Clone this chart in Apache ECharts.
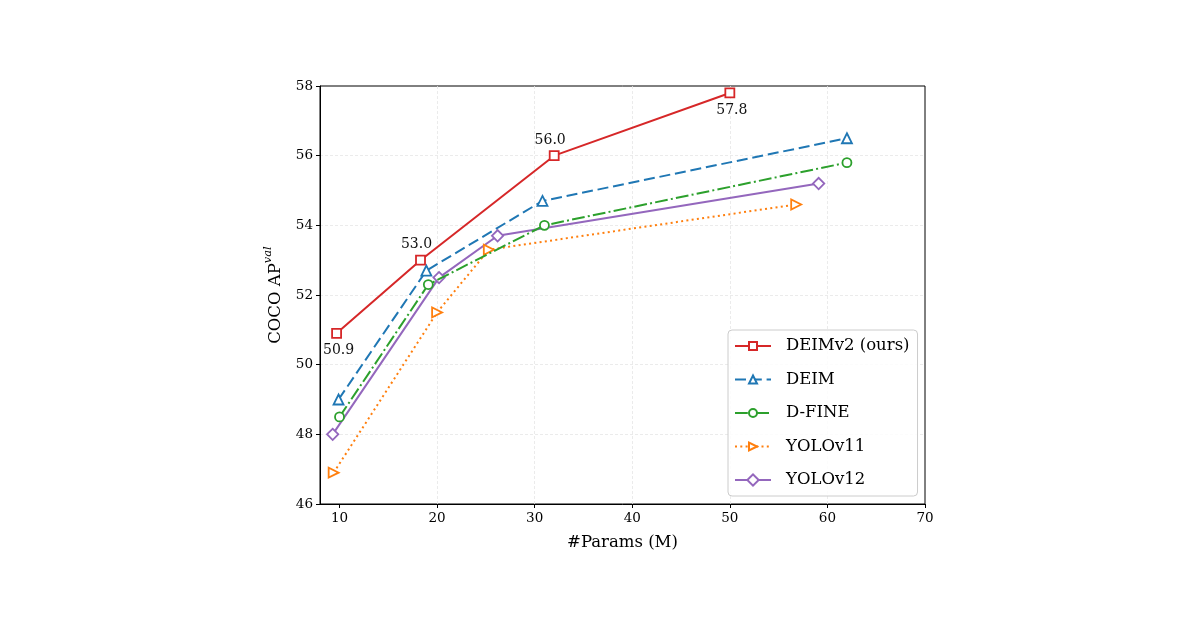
<!DOCTYPE html>
<html><head><meta charset="utf-8">
<script src="https://cdn.jsdelivr.net/npm/echarts@6/dist/echarts.min.js"></script>
<style>html,body{margin:0;padding:0;background:#fff}#c{width:1200px;height:630px}</style>
</head><body><div id="c"></div>
<script>
// ---- data ----
const seriesNames = ['DEIMv2 (ours)', 'DEIM', 'D-FINE', 'YOLOv11', 'YOLOv12'];
const deimv2Params = [9.7, 18.3, 32.0, 50.0];
const deimv2AP = [50.9, 53.0, 56.0, 57.8];
const deimParams = [9.9, 18.9, 30.8, 62.0];
const deimAP = [49.0, 52.7, 54.7, 56.5];
const dfineParams = [10.0, 19.1, 31.0, 62.0];
const dfineAP = [48.5, 52.3, 54.0, 55.8];
const yolo11Params = [9.4, 20.0, 25.3, 56.8];
const yolo11AP = [46.9, 51.5, 53.3, 54.6];
const yolo12Params = [9.3, 20.2, 26.2, 59.1];
const yolo12AP = [48.0, 52.5, 53.7, 55.2];
const annotationPlacement = ['bottom', 'top', 'top', 'bottom'];
const xTicks = [10, 20, 30, 40, 50, 60, 70];
const yTicks = [46, 48, 50, 52, 54, 56, 58];

const FONT = '"DejaVu Serif", serif';
const colors = ['#d62728', '#1f77b4', '#2ca02c', '#ff7f0e', '#9467bd'];
const pair = (xs, ys) => xs.map((x, i) => [x, ys[i]]);

const chart = echarts.init(document.getElementById('c'), null, {renderer: 'canvas'});

function mkSeries(idx, xs, ys, symbol, size, dash, rotate, extra) {
  return Object.assign({
    name: seriesNames[idx],
    type: 'line',
    data: pair(xs, ys),
    symbol: symbol,
    symbolSize: size,
    symbolRotate: rotate || 0,
    showAllSymbol: true,
    color: colors[idx],
    lineStyle: {color: colors[idx], width: 2, type: dash},
    itemStyle: {color: '#fff', borderColor: colors[idx], borderWidth: 1.8},
    emphasis: {disabled: true},
    z: 10 - idx
  }, extra || {});
}

const deimv2Data = pair(deimv2Params, deimv2AP).map((p, i) => ({
  value: p,
  label: {
    show: true,
    position: annotationPlacement[i],
    distance: annotationPlacement[i] === 'top' ? 3 : 5,
    formatter: deimv2AP[i].toFixed(1),
    fontFamily: FONT, fontSize: 14, color: '#111',
    offset: [i === 1 || i === 2 ? -4 : 2, 0]
  }
}));

const gridSplit = {show: true, showMinLine: false, showMaxLine: false, lineStyle: {color: '#e6e6e6', type: [3, 2], width: 0.8}};

const option = {
  animation: false,
  backgroundColor: '#fff',
  textStyle: {fontFamily: FONT},
  grid: {left: 320, right: 275, top: 86, bottom: 126, show: true, borderColor: '#000', borderWidth: 1, backgroundColor: 'transparent'},
  xAxis: {
    type: 'value', min: 8, max: 70,
    name: '#Params (M)', nameLocation: 'middle', nameGap: 30,
    nameTextStyle: {fontFamily: FONT, fontSize: 16.5, color: '#000'},
    axisLine: {show: true, lineStyle: {color: '#000', width: 1}},
    axisTick: {show: true, length: 4, lineStyle: {color: '#000'}, customValues: xTicks},
    axisLabel: {fontFamily: FONT, fontSize: 13.5, color: '#000', margin: 7, customValues: xTicks},
    splitLine: gridSplit
  },
  yAxis: {
    type: 'value', min: 46, max: 58, interval: 2,
    name: '{a|COCO AP}{s|val}', nameLocation: 'middle', nameGap: 36, nameRotate: 90,
    nameTextStyle: {
      fontFamily: FONT, fontSize: 16.5, color: '#000',
      rich: {
        a: {fontFamily: FONT, fontSize: 16.5, color: '#000', verticalAlign: 'bottom', lineHeight: 22},
        s: {fontFamily: FONT, fontSize: 11.5, fontStyle: 'italic', color: '#000', verticalAlign: 'top', lineHeight: 22, padding: [0, 0, 6, 0]}
      }
    },
    axisLine: {show: true, lineStyle: {color: '#000', width: 1}},
    axisTick: {show: true, length: 4, lineStyle: {color: '#000'}},
    axisLabel: {fontFamily: FONT, fontSize: 13.5, color: '#000', margin: 7},
    splitLine: gridSplit
  },
  legend: {
    orient: 'vertical',
    left: 728, top: 330,
    padding: [6, 8, 6, 6],
    itemGap: 13.5,
    itemWidth: 36, itemHeight: 10,
    backgroundColor: 'rgba(255,255,255,0.85)',
    borderColor: '#cccccc', borderWidth: 1, borderRadius: 4,
    textStyle: {fontFamily: FONT, fontSize: 16.5, color: '#000', padding: [0, 0, 0, 10], lineHeight: 20},
    data: seriesNames
  },
  series: [
    mkSeries(0, [], [], 'rect', 9, 'solid', 0, {data: deimv2Data}),
    mkSeries(1, deimParams, deimAP, 'triangle', 10, [11, 4.8], 0),
    mkSeries(2, dfineParams, dfineAP, 'circle', 9, [12.8, 3.2, 2, 3.2], 0),
    mkSeries(3, yolo11Params, yolo11AP, 'triangle', 10, [2, 3.3], -90),
    mkSeries(4, yolo12Params, yolo12AP, 'rect', 8, 'solid', 45)
  ]
};
chart.setOption(option);
</script></body></html>
